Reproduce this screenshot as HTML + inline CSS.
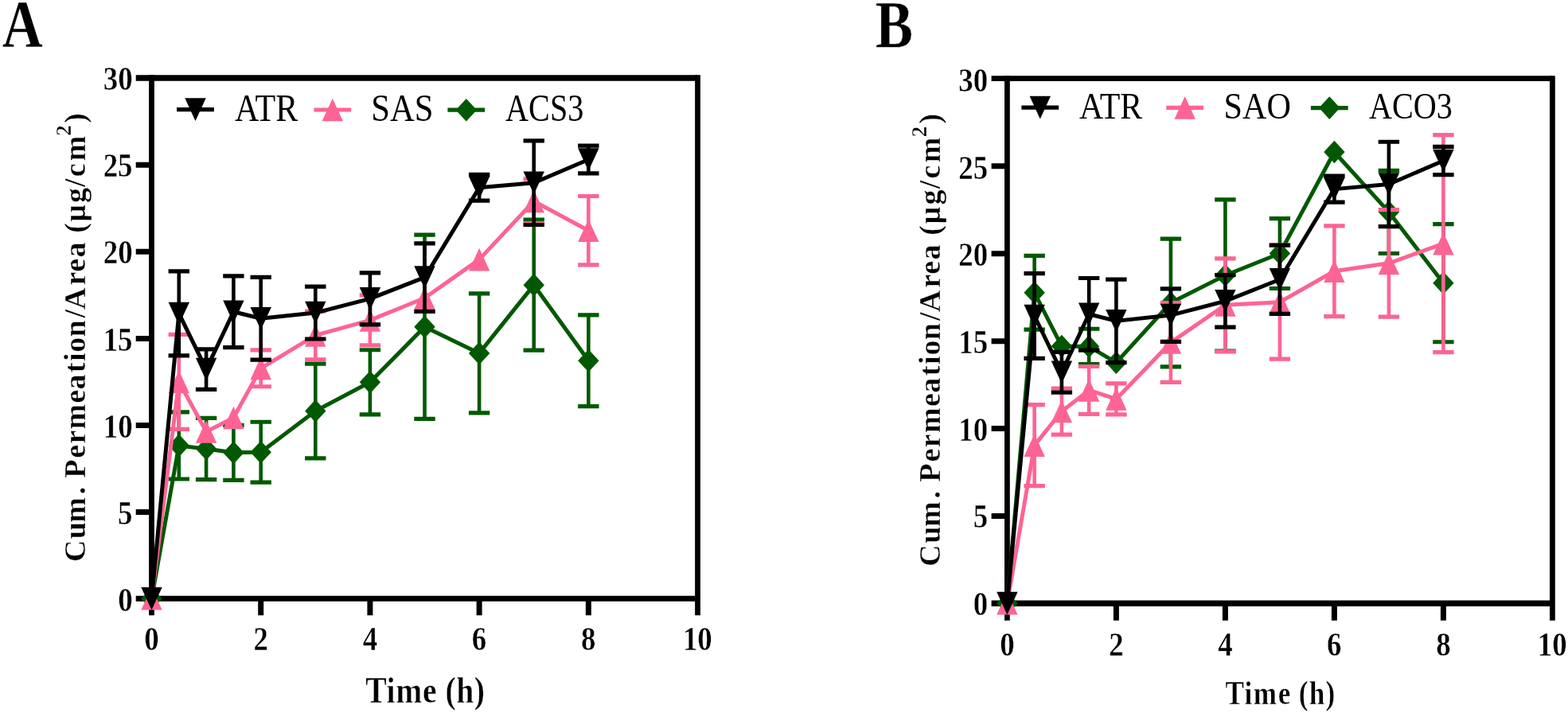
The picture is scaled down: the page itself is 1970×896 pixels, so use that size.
<!DOCTYPE html>
<html lang="en">
<head>
<meta charset="utf-8">
<title>Cumulative permeation per area versus time</title>
<style>
html,body{margin:0;padding:0;background:#fff;}
body{width:1970px;height:896px;overflow:hidden;}
svg{display:block;}
</style>
</head>
<body>
<svg width="1970" height="896" viewBox="0 0 1970 896">
<rect width="1970" height="896" fill="#ffffff"/>
<g id="panelA">
<g stroke="#000" fill="none" stroke-linecap="butt">
<path stroke-width="6.8" d="M190.5 94.25 V773.25 M876.55 94.25 V773.25"/>
<path stroke-width="7.5" d="M170.7 98 H876.55"/>
<path stroke-width="6.8" d="M170.7 752.25 H876.55"/>
<path stroke-width="7" d="M170.7 643.46 H190.5 M170.7 534.42 H190.5 M170.7 425.38 H190.5 M170.7 316.33 H190.5 M170.7 207.29 H190.5 M327.71 752.25 V773.25 M464.92 752.25 V773.25 M602.13 752.25 V773.25 M739.34 752.25 V773.25"/>
</g>
<g class="series">
<path fill="none" stroke="#005900" stroke-width="4.6" d="M224.8 517.81 V601.99 M259.11 525.44 V602.64 M293.41 534.38 V603.3 M327.71 530.24 V606.13 M396.31 457.18 V575.82 M464.92 439.74 V520.86 M533.52 295.15 V526.32 M602.13 368.86 V518.9 M670.73 276.17 V440.17 M739.34 395.9 V510.61"/>
<path fill="none" stroke="#005900" stroke-width="5.2" d="M211.6 517.81 H238 M211.6 601.99 H238 M245.91 525.44 H272.31 M245.91 602.64 H272.31 M280.21 534.38 H306.61 M280.21 603.3 H306.61 M314.51 530.24 H340.91 M314.51 606.13 H340.91 M383.11 457.18 H409.51 M383.11 575.82 H409.51 M451.72 439.74 H478.12 M451.72 520.86 H478.12 M520.32 295.15 H546.73 M520.32 526.32 H546.73 M588.93 368.86 H615.33 M588.93 518.9 H615.33 M657.53 276.17 H683.93 M657.53 440.17 H683.93 M726.14 395.9 H752.54 M726.14 510.61 H752.54"/>
<polyline fill="none" stroke="#005900" stroke-width="5" stroke-linejoin="round" points="190.5,752.25 224.8,559.9 259.11,564.04 293.41,568.84 327.71,568.19 396.31,516.5 464.92,480.3 533.52,410.73 602.13,443.88 670.73,358.17 739.34,453.26"/>
<polygon points="190.5,737.95 203.7,752.25 190.5,766.55 177.3,752.25" fill="#005900"/>
<polygon points="224.8,545.6 238,559.9 224.8,574.2 211.6,559.9" fill="#005900"/>
<polygon points="259.11,549.74 272.31,564.04 259.11,578.34 245.91,564.04" fill="#005900"/>
<polygon points="293.41,554.54 306.61,568.84 293.41,583.14 280.21,568.84" fill="#005900"/>
<polygon points="327.71,553.89 340.91,568.19 327.71,582.49 314.51,568.19" fill="#005900"/>
<polygon points="396.31,502.2 409.51,516.5 396.31,530.8 383.11,516.5" fill="#005900"/>
<polygon points="464.92,466 478.12,480.3 464.92,494.6 451.72,480.3" fill="#005900"/>
<polygon points="533.52,396.43 546.73,410.73 533.52,425.03 520.32,410.73" fill="#005900"/>
<polygon points="602.13,429.58 615.33,443.88 602.13,458.18 588.93,443.88" fill="#005900"/>
<polygon points="670.73,343.87 683.93,358.17 670.73,372.47 657.53,358.17" fill="#005900"/>
<polygon points="739.34,438.96 752.54,453.26 739.34,467.56 726.14,453.26" fill="#005900"/>
</g>
<g class="series">
<path fill="none" stroke="#FD6494" stroke-width="4.6" d="M224.8 420.33 V539.4 M327.71 439.95 V485.75 M396.31 391.1 V451.73 M464.92 370.93 V433.96 M670.73 224.92 V280.75 M739.34 246.51 V332.88"/>
<path fill="none" stroke="#FD6494" stroke-width="5.2" d="M211.6 420.33 H238 M211.6 539.4 H238 M314.51 439.95 H340.91 M314.51 485.75 H340.91 M383.11 391.1 H409.51 M383.11 451.73 H409.51 M451.72 370.93 H478.12 M451.72 433.96 H478.12 M657.53 224.92 H683.93 M657.53 280.75 H683.93 M726.14 246.51 H752.54 M726.14 332.88 H752.54"/>
<polyline fill="none" stroke="#FD6494" stroke-width="5" stroke-linejoin="round" points="190.5,752.25 224.8,479.86 259.11,542.45 293.41,525.01 327.71,462.85 396.31,421.42 464.92,402.44 533.52,374.53 602.13,326.12 670.73,252.84 739.34,289.7"/>
<polygon points="177.3,766.55 203.7,766.55 190.5,737.95" fill="#FD6494"/>
<polygon points="211.6,494.16 238,494.16 224.8,465.56" fill="#FD6494"/>
<polygon points="245.91,556.75 272.31,556.75 259.11,528.15" fill="#FD6494"/>
<polygon points="280.21,539.31 306.61,539.31 293.41,510.71" fill="#FD6494"/>
<polygon points="314.51,477.15 340.91,477.15 327.71,448.55" fill="#FD6494"/>
<polygon points="383.11,435.72 409.51,435.72 396.31,407.12" fill="#FD6494"/>
<polygon points="451.72,416.74 478.12,416.74 464.92,388.14" fill="#FD6494"/>
<polygon points="520.32,388.83 546.73,388.83 533.52,360.23" fill="#FD6494"/>
<polygon points="588.93,340.42 615.33,340.42 602.13,311.82" fill="#FD6494"/>
<polygon points="657.53,267.14 683.93,267.14 670.73,238.54" fill="#FD6494"/>
<polygon points="726.14,304 752.54,304 739.34,275.4" fill="#FD6494"/>
</g>
<g class="series">
<path fill="none" stroke="#000000" stroke-width="4.6" d="M224.8 340.94 V446.93 M259.11 438.95 V489.37 M293.41 346.83 V436.68 M327.71 348.45 V452.08 M396.31 360.14 V426 M464.92 342.91 V407.9 M533.52 305.83 V391.32 M602.13 219.47 V252.18 M670.73 176.95 V282.5 M739.34 183.05 V217.95"/>
<path fill="none" stroke="#000000" stroke-width="5.2" d="M211.6 340.94 H238 M211.6 446.93 H238 M245.91 438.95 H272.31 M245.91 489.37 H272.31 M280.21 346.83 H306.61 M280.21 436.68 H306.61 M314.51 348.45 H340.91 M314.51 452.08 H340.91 M383.11 360.14 H409.51 M383.11 426 H409.51 M451.72 342.91 H478.12 M451.72 407.9 H478.12 M520.32 305.83 H546.73 M520.32 391.32 H546.73 M588.93 219.47 H615.33 M588.93 252.18 H615.33 M657.53 176.95 H683.93 M657.53 282.5 H683.93 M726.14 183.05 H752.54 M726.14 217.95 H752.54"/>
<polyline fill="none" stroke="#000000" stroke-width="5" stroke-linejoin="round" points="190.5,752.25 224.8,393.94 259.11,464.16 293.41,391.76 327.71,400.26 396.31,393.07 464.92,375.4 533.52,348.58 602.13,235.83 670.73,229.72 739.34,200.5"/>
<polygon points="177.3,737.95 203.7,737.95 190.5,766.55" fill="#000000"/>
<polygon points="211.6,379.64 238,379.64 224.8,408.24" fill="#000000"/>
<polygon points="245.91,449.86 272.31,449.86 259.11,478.46" fill="#000000"/>
<polygon points="280.21,377.46 306.61,377.46 293.41,406.06" fill="#000000"/>
<polygon points="314.51,385.96 340.91,385.96 327.71,414.56" fill="#000000"/>
<polygon points="383.11,378.77 409.51,378.77 396.31,407.37" fill="#000000"/>
<polygon points="451.72,361.1 478.12,361.1 464.92,389.7" fill="#000000"/>
<polygon points="520.32,334.28 546.73,334.28 533.52,362.88" fill="#000000"/>
<polygon points="588.93,221.53 615.33,221.53 602.13,250.13" fill="#000000"/>
<polygon points="657.53,215.42 683.93,215.42 670.73,244.02" fill="#000000"/>
<polygon points="726.14,186.2 752.54,186.2 739.34,214.8" fill="#000000"/>
</g>
</g>
<g id="panelB">
<g stroke="#000" fill="none" stroke-linecap="butt">
<path stroke-width="6.8" d="M1265.4 95.3 V779.85 M1950.4 95.3 V779.85"/>
<path stroke-width="6.8" d="M1245.6 98.7 H1950.4"/>
<path stroke-width="7.5" d="M1245.6 758.15 H1950.4"/>
<path stroke-width="7" d="M1245.6 648.49 H1265.4 M1245.6 538.58 H1265.4 M1245.6 428.68 H1265.4 M1245.6 318.77 H1265.4 M1245.6 208.86 H1265.4 M1402.4 758.15 V779.85 M1539.4 758.15 V779.85 M1676.4 758.15 V779.85 M1813.4 758.15 V779.85"/>
</g>
<g class="series">
<path fill="none" stroke="#005900" stroke-width="4.6" d="M1299.65 321.37 V414.14 M1368.15 413.26 V457.66 M1470.9 300.05 V460.96 M1539.4 250.81 V441.17 M1607.9 274.55 V362.48 M1744.9 214.32 V318.52 M1813.4 281.59 V429.74"/>
<path fill="none" stroke="#005900" stroke-width="5.2" d="M1286.45 321.37 H1312.85 M1286.45 414.14 H1312.85 M1354.95 413.26 H1381.35 M1354.95 457.66 H1381.35 M1457.7 300.05 H1484.1 M1457.7 460.96 H1484.1 M1526.2 250.81 H1552.6 M1526.2 441.17 H1552.6 M1594.7 274.55 H1621.1 M1594.7 362.48 H1621.1 M1731.7 214.32 H1758.1 M1731.7 318.52 H1758.1 M1800.2 281.59 H1826.6 M1800.2 429.74 H1826.6"/>
<polyline fill="none" stroke="#005900" stroke-width="5" stroke-linejoin="round" points="1265.4,758.15 1299.65,367.76 1333.9,435.02 1368.15,435.46 1402.4,455.68 1470.9,380.5 1539.4,345.99 1607.9,318.52 1676.4,191.02 1744.9,266.42 1813.4,355.67"/>
<polygon points="1265.4,743.85 1278.6,758.15 1265.4,772.45 1252.2,758.15" fill="#005900"/>
<polygon points="1299.65,353.46 1312.85,367.76 1299.65,382.06 1286.45,367.76" fill="#005900"/>
<polygon points="1333.9,420.72 1347.1,435.02 1333.9,449.32 1320.7,435.02" fill="#005900"/>
<polygon points="1368.15,421.16 1381.35,435.46 1368.15,449.76 1354.95,435.46" fill="#005900"/>
<polygon points="1402.4,441.38 1415.6,455.68 1402.4,469.98 1389.2,455.68" fill="#005900"/>
<polygon points="1470.9,366.2 1484.1,380.5 1470.9,394.8 1457.7,380.5" fill="#005900"/>
<polygon points="1539.4,331.69 1552.6,345.99 1539.4,360.29 1526.2,345.99" fill="#005900"/>
<polygon points="1607.9,304.22 1621.1,318.52 1607.9,332.82 1594.7,318.52" fill="#005900"/>
<polygon points="1676.4,176.72 1689.6,191.02 1676.4,205.32 1663.2,191.02" fill="#005900"/>
<polygon points="1744.9,252.12 1758.1,266.42 1744.9,280.72 1731.7,266.42" fill="#005900"/>
<polygon points="1813.4,341.37 1826.6,355.67 1813.4,369.97 1800.2,355.67" fill="#005900"/>
</g>
<g class="series">
<path fill="none" stroke="#FD6494" stroke-width="4.6" d="M1299.65 508.66 V610.65 M1333.9 488 V546.03 M1368.15 460.52 V520.31 M1402.4 481.84 V520.97 M1470.9 380.5 V480.3 M1539.4 324.89 V441.83 M1607.9 308.19 V451.07 M1676.4 283.79 V397.65 M1744.9 263.56 V398.09 M1813.4 169.7 V442.71"/>
<path fill="none" stroke="#FD6494" stroke-width="5.2" d="M1286.45 508.66 H1312.85 M1286.45 610.65 H1312.85 M1320.7 488 H1347.1 M1320.7 546.03 H1347.1 M1354.95 460.52 H1381.35 M1354.95 520.31 H1381.35 M1389.2 481.84 H1415.6 M1389.2 520.97 H1415.6 M1457.7 380.5 H1484.1 M1457.7 480.3 H1484.1 M1526.2 324.89 H1552.6 M1526.2 441.83 H1552.6 M1594.7 308.19 H1621.1 M1594.7 451.07 H1621.1 M1663.2 283.79 H1689.6 M1663.2 397.65 H1689.6 M1731.7 263.56 H1758.1 M1731.7 398.09 H1758.1 M1800.2 169.7 H1826.6 M1800.2 442.71 H1826.6"/>
<polyline fill="none" stroke="#FD6494" stroke-width="5" stroke-linejoin="round" points="1265.4,758.15 1299.65,559.66 1333.9,517.01 1368.15,490.41 1402.4,501.4 1470.9,430.4 1539.4,383.36 1607.9,379.63 1676.4,340.72 1744.9,330.83 1813.4,306.21"/>
<polygon points="1252.2,772.45 1278.6,772.45 1265.4,743.85" fill="#FD6494"/>
<polygon points="1286.45,573.96 1312.85,573.96 1299.65,545.36" fill="#FD6494"/>
<polygon points="1320.7,531.31 1347.1,531.31 1333.9,502.71" fill="#FD6494"/>
<polygon points="1354.95,504.71 1381.35,504.71 1368.15,476.11" fill="#FD6494"/>
<polygon points="1389.2,515.7 1415.6,515.7 1402.4,487.1" fill="#FD6494"/>
<polygon points="1457.7,444.7 1484.1,444.7 1470.9,416.1" fill="#FD6494"/>
<polygon points="1526.2,397.66 1552.6,397.66 1539.4,369.06" fill="#FD6494"/>
<polygon points="1594.7,393.93 1621.1,393.93 1607.9,365.33" fill="#FD6494"/>
<polygon points="1663.2,355.02 1689.6,355.02 1676.4,326.42" fill="#FD6494"/>
<polygon points="1731.7,345.13 1758.1,345.13 1744.9,316.53" fill="#FD6494"/>
<polygon points="1800.2,320.51 1826.6,320.51 1813.4,291.91" fill="#FD6494"/>
</g>
<g class="series">
<path fill="none" stroke="#000000" stroke-width="4.6" d="M1299.65 343.58 V450.41 M1333.9 442.36 V493.18 M1368.15 349.51 V440.08 M1402.4 351.14 V455.59 M1470.9 362.92 V429.3 M1539.4 345.55 V411.06 M1607.9 308.19 V394.35 M1676.4 221.14 V254.11 M1744.9 178.27 V284.66 M1813.4 184.43 V219.6"/>
<path fill="none" stroke="#000000" stroke-width="5.2" d="M1286.45 343.58 H1312.85 M1286.45 450.41 H1312.85 M1320.7 442.36 H1347.1 M1320.7 493.18 H1347.1 M1354.95 349.51 H1381.35 M1354.95 440.08 H1381.35 M1389.2 351.14 H1415.6 M1389.2 455.59 H1415.6 M1457.7 362.92 H1484.1 M1457.7 429.3 H1484.1 M1526.2 345.55 H1552.6 M1526.2 411.06 H1552.6 M1594.7 308.19 H1621.1 M1594.7 394.35 H1621.1 M1663.2 221.14 H1689.6 M1663.2 254.11 H1689.6 M1731.7 178.27 H1758.1 M1731.7 284.66 H1758.1 M1800.2 184.43 H1826.6 M1800.2 219.6 H1826.6"/>
<polyline fill="none" stroke="#000000" stroke-width="5" stroke-linejoin="round" points="1265.4,758.15 1299.65,396.99 1333.9,467.77 1368.15,394.79 1402.4,403.37 1470.9,396.11 1539.4,378.31 1607.9,351.27 1676.4,237.62 1744.9,231.47 1813.4,202.01"/>
<polygon points="1252.2,743.85 1278.6,743.85 1265.4,772.45" fill="#000000"/>
<polygon points="1286.45,382.69 1312.85,382.69 1299.65,411.29" fill="#000000"/>
<polygon points="1320.7,453.47 1347.1,453.47 1333.9,482.07" fill="#000000"/>
<polygon points="1354.95,380.49 1381.35,380.49 1368.15,409.09" fill="#000000"/>
<polygon points="1389.2,389.07 1415.6,389.07 1402.4,417.67" fill="#000000"/>
<polygon points="1457.7,381.81 1484.1,381.81 1470.9,410.41" fill="#000000"/>
<polygon points="1526.2,364.01 1552.6,364.01 1539.4,392.61" fill="#000000"/>
<polygon points="1594.7,336.97 1621.1,336.97 1607.9,365.57" fill="#000000"/>
<polygon points="1663.2,223.32 1689.6,223.32 1676.4,251.92" fill="#000000"/>
<polygon points="1731.7,217.17 1758.1,217.17 1744.9,245.77" fill="#000000"/>
<polygon points="1800.2,187.71 1826.6,187.71 1813.4,216.31" fill="#000000"/>
</g>
</g>
<g font-family='"Liberation Serif", "Times New Roman", Times, serif' font-size="100" fill="#000">
<text transform="matrix(0.7052 0 0 0.8515 2.79 59.40)" font-weight="bold" stroke="#fff" stroke-width="0.55"><tspan x="0.00">A</tspan></text>
<text transform="matrix(0.7091 0 0 0.8506 1099.82 59.59)" font-weight="bold" stroke="#fff" stroke-width="0.55"><tspan x="0.00">B</tspan></text>
<text transform="matrix(0.3691 0 0 0.4253 148.16 767.65)" font-weight="bold" stroke="#fff" stroke-width="1"><tspan x="0.00">0</tspan></text>
<text transform="matrix(0.3691 0 0 0.4253 148.11 658.61)" font-weight="bold" stroke="#fff" stroke-width="1"><tspan x="0.00">5</tspan></text>
<text transform="matrix(0.3691 0 0 0.4253 129.70 549.56)" font-weight="bold" stroke="#fff" stroke-width="1"><tspan x="0.00 50.00">10</tspan></text>
<text transform="matrix(0.3691 0 0 0.4253 129.65 440.52)" font-weight="bold" stroke="#fff" stroke-width="1"><tspan x="0.00 50.00">15</tspan></text>
<text transform="matrix(0.3691 0 0 0.4253 129.70 331.48)" font-weight="bold" stroke="#fff" stroke-width="1"><tspan x="0.00 50.00">20</tspan></text>
<text transform="matrix(0.3691 0 0 0.4253 129.65 222.44)" font-weight="bold" stroke="#fff" stroke-width="1"><tspan x="0.00 50.00">25</tspan></text>
<text transform="matrix(0.3691 0 0 0.4253 129.70 113.40)" font-weight="bold" stroke="#fff" stroke-width="1"><tspan x="0.00 50.00">30</tspan></text>
<text transform="matrix(0.3691 0 0 0.4253 181.27 817.20)" font-weight="bold" stroke="#fff" stroke-width="1"><tspan x="0.00">0</tspan></text>
<text transform="matrix(0.3691 0 0 0.4253 318.50 817.20)" font-weight="bold" stroke="#fff" stroke-width="1"><tspan x="0.00">2</tspan></text>
<text transform="matrix(0.3691 0 0 0.4253 455.80 817.20)" font-weight="bold" stroke="#fff" stroke-width="1"><tspan x="0.00">4</tspan></text>
<text transform="matrix(0.3691 0 0 0.4253 592.82 817.20)" font-weight="bold" stroke="#fff" stroke-width="1"><tspan x="0.00">6</tspan></text>
<text transform="matrix(0.3691 0 0 0.4253 730.11 817.20)" font-weight="bold" stroke="#fff" stroke-width="1"><tspan x="0.00">8</tspan></text>
<text transform="matrix(0.3691 0 0 0.4253 857.92 817.20)" font-weight="bold" stroke="#fff" stroke-width="1"><tspan x="0.00 50.00">10</tspan></text>
<text transform="matrix(0.3691 0 0 0.4253 1222.76 773.05)" font-weight="bold" stroke="#fff" stroke-width="1"><tspan x="0.00">0</tspan></text>
<text transform="matrix(0.3691 0 0 0.4253 1222.71 663.37)" font-weight="bold" stroke="#fff" stroke-width="1"><tspan x="0.00">5</tspan></text>
<text transform="matrix(0.3691 0 0 0.4253 1204.30 553.69)" font-weight="bold" stroke="#fff" stroke-width="1"><tspan x="0.00 50.00">10</tspan></text>
<text transform="matrix(0.3691 0 0 0.4253 1204.25 444.01)" font-weight="bold" stroke="#fff" stroke-width="1"><tspan x="0.00 50.00">15</tspan></text>
<text transform="matrix(0.3691 0 0 0.4253 1204.30 334.33)" font-weight="bold" stroke="#fff" stroke-width="1"><tspan x="0.00 50.00">20</tspan></text>
<text transform="matrix(0.3691 0 0 0.4253 1204.25 224.65)" font-weight="bold" stroke="#fff" stroke-width="1"><tspan x="0.00 50.00">25</tspan></text>
<text transform="matrix(0.3691 0 0 0.4253 1204.30 114.97)" font-weight="bold" stroke="#fff" stroke-width="1"><tspan x="0.00 50.00">30</tspan></text>
<text transform="matrix(0.3691 0 0 0.4253 1256.17 823.90)" font-weight="bold" stroke="#fff" stroke-width="1"><tspan x="0.00">0</tspan></text>
<text transform="matrix(0.3691 0 0 0.4253 1393.19 823.90)" font-weight="bold" stroke="#fff" stroke-width="1"><tspan x="0.00">2</tspan></text>
<text transform="matrix(0.3691 0 0 0.4253 1530.28 823.90)" font-weight="bold" stroke="#fff" stroke-width="1"><tspan x="0.00">4</tspan></text>
<text transform="matrix(0.3691 0 0 0.4253 1667.09 823.90)" font-weight="bold" stroke="#fff" stroke-width="1"><tspan x="0.00">6</tspan></text>
<text transform="matrix(0.3691 0 0 0.4253 1804.17 823.90)" font-weight="bold" stroke="#fff" stroke-width="1"><tspan x="0.00">8</tspan></text>
<text transform="matrix(0.3691 0 0 0.4253 1931.77 823.90)" font-weight="bold" stroke="#fff" stroke-width="1"><tspan x="0.00 50.00">10</tspan></text>
<text transform="matrix(0.3967 0 0 0.4567 458.88 883.29)" font-weight="bold" stroke="#fff" stroke-width="1"><tspan x="1.00 67.33 96.83 182.10 227.56 253.46 288.13 345.12">Time (h)</tspan></text>
<text transform="matrix(0.3517 0 0 0.4169 1538.57 884.90)" font-weight="bold" stroke="#fff" stroke-width="1"><tspan x="2.44 70.82 102.78 190.88 237.89 265.08 301.72 360.68">Time (h)</tspan></text>
<text transform="matrix(0.4202 0 0 0.4825 294.88 152.05)" font-weight="normal"><tspan x="0.00 61.12 122.20">ATR</tspan></text>
<text transform="matrix(0.4275 0 0 0.4825 466.13 152.05)" font-weight="normal"><tspan x="0.00 55.61 127.83">SAS</tspan></text>
<text transform="matrix(0.4016 0 0 0.4825 635.10 152.05)" font-weight="normal"><tspan x="0.00 72.20 138.91 194.53">ACS3</tspan></text>
<text transform="matrix(0.4191 0 0 0.4703 1356.08 148.84)" font-weight="normal"><tspan x="0.00 61.12 122.20">ATR</tspan></text>
<text transform="matrix(0.4215 0 0 0.4703 1537.57 148.84)" font-weight="normal"><tspan x="0.00 55.61 127.83">SAO</tspan></text>
<text transform="matrix(0.4016 0 0 0.4703 1719.90 148.84)" font-weight="normal"><tspan x="0.00 72.20 138.91 211.12">ACO3</tspan></text>
<text transform="matrix(0 -0.3800 0.3750 0 106.80 710)" font-weight="bold" stroke="#fff" stroke-width="1"><tspan x="10.4 86.2 140.2 233.3 260.3 287.3 353.3 401.2 448.5 535.2 580.2 635.9 673.4 703.3 753.7 817.3 845.0 924.9 969.1 1017.3 1057.5 1097.8 1134.6 1197.5 1250.2 1283.4 1336.4">Cum. Permeation/Area (µg/cm</tspan><tspan x="1419.3" dy="-46.4" font-size="71">2</tspan><tspan x="1461.4" dy="46.4">)</tspan></text>
<text transform="matrix(0 -0.3800 0.3750 0 1181.30 710)" font-weight="bold" stroke="#fff" stroke-width="1"><tspan x="-4.4 71.9 126.4 219.9 247.1 274.4 340.8 389.1 436.8 523.9 569.3 625.4 663.1 693.3 744.1 808.0 836.0 916.4 960.9 1009.5 1050.0 1090.4 1127.6 1190.9 1243.9 1277.4 1330.9">Cum. Permeation/Area (µg/cm</tspan><tspan x="1414.9" dy="-46.9" font-size="71">2</tspan><tspan x="1459.2" dy="46.9">)</tspan></text>
</g>
<g id="legend">
<path d="M222.1 137.6 H268.9" stroke="#000000" stroke-width="5.2" fill="none"/><polygon points="232.3,123.3 258.7,123.3 245.5,151.9" fill="#000000"/>
<path d="M394.4 138 H441.2" stroke="#FD6494" stroke-width="5.2" fill="none"/><polygon points="404.6,152.3 431,152.3 417.8,123.7" fill="#FD6494"/>
<path d="M562.4 138.2 H609.2" stroke="#005900" stroke-width="5.2" fill="none"/><polygon points="585.8,123.9 599,138.2 585.8,152.5 572.6,138.2" fill="#005900"/>
<path d="M1283.4 135.1 H1330.2" stroke="#000000" stroke-width="5.2" fill="none"/><polygon points="1293.6,120.8 1320,120.8 1306.8,149.4" fill="#000000"/>
<path d="M1465.3 135.4 H1512.1" stroke="#FD6494" stroke-width="5.2" fill="none"/><polygon points="1475.5,149.7 1501.9,149.7 1488.7,121.1" fill="#FD6494"/>
<path d="M1646.9 135.6 H1693.7" stroke="#005900" stroke-width="5.2" fill="none"/><polygon points="1670.3,121.3 1683.5,135.6 1670.3,149.9 1657.1,135.6" fill="#005900"/>
</g>
</svg>
</body>
</html>
